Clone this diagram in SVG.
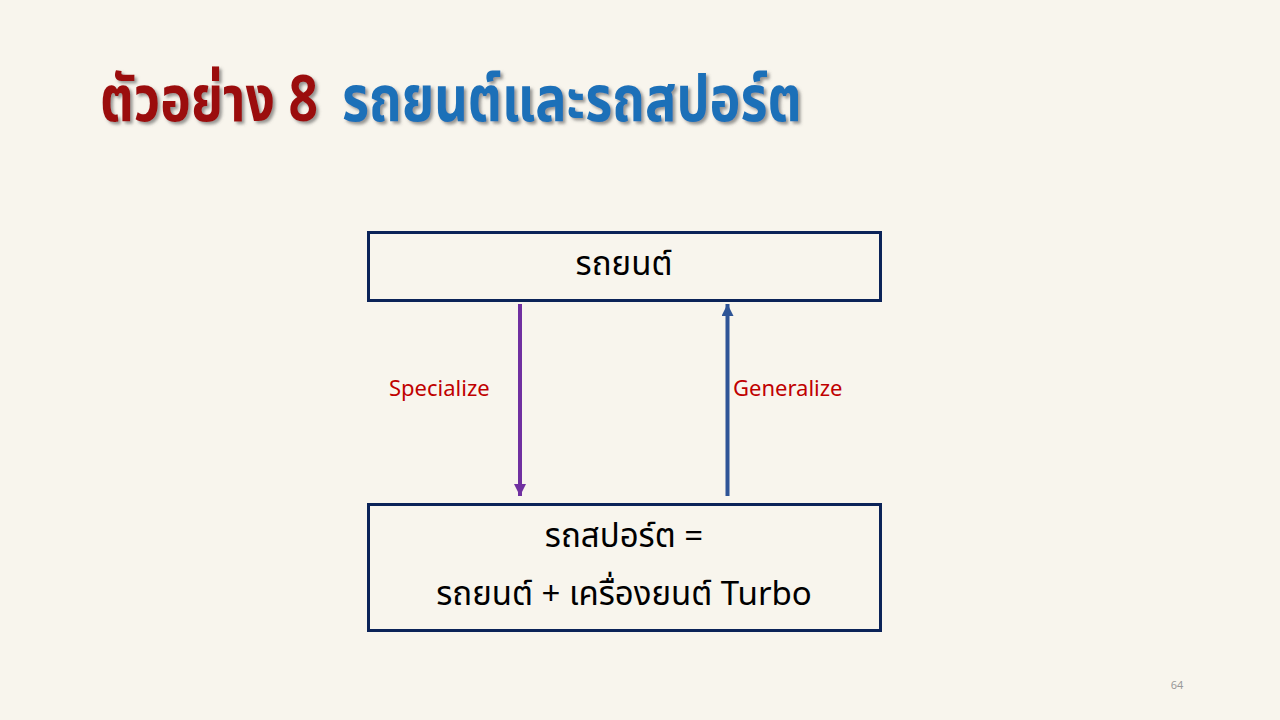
<svg xmlns="http://www.w3.org/2000/svg" width="1280" height="720" viewBox="0 0 1280 720">
<defs>
<style>
.thai{font-family:"Noto Sans Thai","Noto Sans","DejaVu Sans","Liberation Sans",sans-serif}
.ttl{font-size:64px;font-weight:bold}
.box{fill:none;stroke:#0b2358;stroke-width:3}
.boxtext{font-size:33px;fill:#000;text-anchor:middle}
.lbl{font-size:22px;fill:#c00000}
</style>
<filter id="sh" x="-5%" y="-20%" width="110%" height="150%">
<feDropShadow dx="2.5" dy="2.5" stdDeviation="1.5" flood-color="#555" flood-opacity="0.6"/>
</filter>
<marker id="ahP" viewBox="0 0 10 10" refX="10" refY="5" markerWidth="12" markerHeight="12" markerUnits="userSpaceOnUse" orient="auto">
<path d="M0,0 L10,5 L0,10 Z" fill="#7030a0"/>
</marker>
<marker id="ahB" viewBox="0 0 10 10" refX="10" refY="5" markerWidth="12" markerHeight="12" markerUnits="userSpaceOnUse" orient="auto">
<path d="M0,0 L10,5 L0,10 Z" fill="#2f5597"/>
</marker>
</defs>
<rect width="1280" height="720" fill="#f8f5ed"/>
<g id="title" filter="url(#sh)">
<text class="thai ttl" transform="translate(100,121) scale(0.807,1)" fill="#9b0a0a">ตัวอย่าง 8</text>
<text class="thai ttl" transform="translate(342,121) scale(0.816,1)" fill="#1f70b8">รถยนต์และรถสปอร์ต</text>
</g>
<g id="node-car">
<rect class="box" x="368.5" y="232.5" width="512" height="68"/>
<text class="thai boxtext" x="624" y="275">รถยนต์</text>
</g>
<g id="node-sportscar">
<rect class="box" x="368.5" y="504.5" width="512" height="126"/>
<text class="thai boxtext" x="624" y="547">รถสปอร์ต =</text>
<text class="thai boxtext" x="624" y="605">รถยนต์ + เครื่องยนต์ Turbo</text>
</g>
<g id="connectors">
<line x1="520" y1="304" x2="520" y2="496" stroke="#7030a0" stroke-width="4" marker-end="url(#ahP)"/>
<line x1="727.5" y1="496" x2="727.5" y2="304" stroke="#2f5597" stroke-width="4" marker-end="url(#ahB)"/>
<text class="thai lbl" x="389" y="396">Specialize</text>
<text class="thai lbl" x="733" y="396">Generalize</text>
</g>
<text class="thai" x="1177" y="689" font-size="11" fill="#999" text-anchor="middle">64</text>
</svg>
